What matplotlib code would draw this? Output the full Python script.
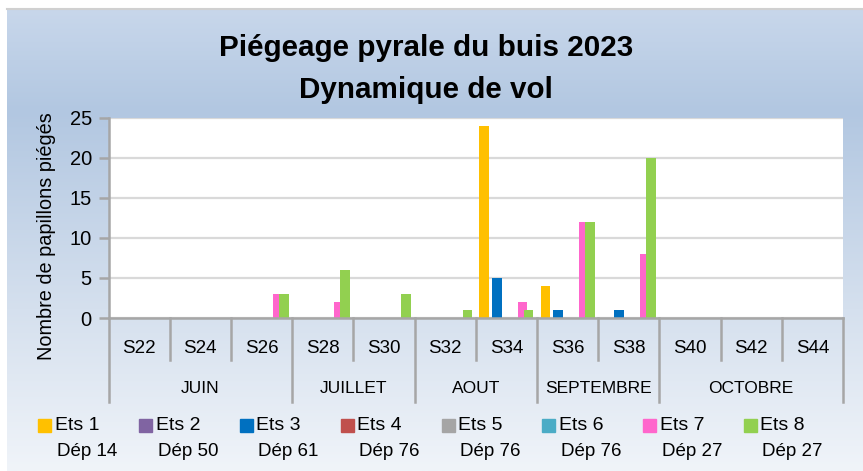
import numpy as np
import matplotlib.pyplot as plt
from matplotlib.patches import Rectangle

# données
weeks = ["S22", "S24", "S26", "S28", "S30", "S32", "S34", "S36", "S38", "S40", "S42", "S44"]
months = ["JUIN", "JUILLET", "AOUT", "SEPTEMBRE", "OCTOBRE"]
month_spans = [(0, 2), (3, 4), (5, 6), (7, 8), (9, 11)]
series = ["Ets 1", "Ets 2", "Ets 3", "Ets 4", "Ets 5", "Ets 6", "Ets 7", "Ets 8"]
depts = ["Dép 14", "Dép 50", "Dép 61", "Dép 76", "Dép 76", "Dép 76", "Dép 27", "Dép 27"]
ets1 = [0, 0, 0, 0, 0, 0, 24, 4, 0, 0, 0, 0]
ets2 = [0, 0, 0, 0, 0, 0, 0, 0, 0, 0, 0, 0]
ets3 = [0, 0, 0, 0, 0, 0, 5, 1, 1, 0, 0, 0]
ets4 = [0, 0, 0, 0, 0, 0, 0, 0, 0, 0, 0, 0]
ets5 = [0, 0, 0, 0, 0, 0, 0, 0, 0, 0, 0, 0]
ets6 = [0, 0, 0, 0, 0, 0, 0, 0, 0, 0, 0, 0]
ets7 = [0, 0, 3, 2, 0, 0, 2, 12, 8, 0, 0, 0]
ets8 = [0, 0, 3, 6, 3, 1, 1, 12, 20, 0, 0, 0]
values = [ets1, ets2, ets3, ets4, ets5, ets6, ets7, ets8]
colors = ["#FFC000", "#8064A2", "#0070C0", "#C0504D", "#A5A5A5", "#4BACC6", "#FF66CC", "#92D050"]

plt.rcParams['font.family'] = ['Liberation Sans', 'DejaVu Sans']

W, H = 863, 471
fig = plt.figure(figsize=(W / 100, H / 100), dpi=100)

# fond dégradé
bg = fig.add_axes([7 / W, 0, 1 - 7 / W, (H - 9) / H])
bg.set_axis_off()
ys = np.linspace(0, 1, 200)
stops = [0.0, 0.22, 0.65, 1.0]
cols = np.array([[200, 215, 235], [178, 199, 225], [213, 224, 238], [240, 244, 249]]) / 255
grad = np.stack([np.interp(ys, stops, cols[:, k]) for k in range(3)], axis=1)
bg.imshow(grad[:, None, :], aspect='auto', extent=[0, 1, 1, 0])
bg.set_xlim(0, 1)
bg.set_ylim(1, 0)
fig.add_artist(plt.Line2D([7 / W, 1], [1 - 8.5 / H] * 2, color="#d0d0d0", lw=1.5))

ax = fig.add_axes([108.5 / W, 1 - 318 / H, (843 - 108.5) / W, (318 - 117.5) / H])
ax.set_facecolor("white")
x = np.arange(len(weeks))
step, width = 0.104, 0.155
for i, (vals, c) in enumerate(zip(values, colors)):
    ax.bar(x + (i - 3.5) * step, vals, width=width, color=c, zorder=3)

ax.set_xlim(-0.5, len(weeks) - 0.5)
ax.set_ylim(0, 25)
ax.set_yticks([0, 5, 10, 15, 20, 25])
ax.yaxis.grid(True, color="#d9d9d9", lw=1.6)
ax.set_axisbelow(True)
ax.set_xticks([])
for s in ["top", "right", "bottom"]:
    ax.spines[s].set_visible(False)
ax.spines["left"].set_color("#a6a6a6")
ax.spines["left"].set_linewidth(1.8)
ax.tick_params(axis="y", length=7, width=1.8, color="#a6a6a6", labelsize=14.5, pad=5)
ax.axhline(0, color="#a6a6a6", lw=1.8, zorder=4, clip_on=False)

# axe des catégories à deux niveaux
tr = ax.get_xaxis_transform()
edges_month = [a - 0.5 for a, b in month_spans] + [len(weeks) - 0.5]
for e in np.arange(-0.5, len(weeks)):
    low = -0.42 if e in edges_month else -0.21
    ax.plot([e, e], [0, low], transform=tr, color="#a6a6a6", lw=1.8, clip_on=False)
for xi, w in zip(x, weeks):
    ax.text(xi, -0.15, w, transform=tr, ha="center", va="center", fontsize=13.5)
for (a, b), m in zip(month_spans, months):
    ax.text((a + b) / 2, -0.35, m, transform=tr, ha="center", va="center", fontsize=12.5)

fig.text(47 / W, 1 - 236 / H, "Nombre de papillons piégés", rotation=90,
         ha="center", va="center", fontsize=14.3)
fig.text(426 / W, 1 - 48 / H, "Piégeage pyrale du buis 2023", ha="center", va="center",
         fontsize=21.3, fontweight="bold")
fig.text(426 / W, 1 - 90 / H, "Dynamique de vol", ha="center", va="center",
         fontsize=21.3, fontweight="bold")

# légende
for i, (lab, dep, c) in enumerate(zip(series, depts, colors)):
    x0 = 38.3 + 100.8 * i
    fig.add_artist(Rectangle((x0 / W, 1 - 432 / H), 13 / W, 13 / H, color=c,
                             transform=fig.transFigure))
    fig.text((x0 + 16.5) / W, 1 - 425.5 / H, lab, ha="left", va="center", fontsize=14)
    fig.text((x0 + 18.5) / W, 1 - 451.5 / H, dep, ha="left", va="center", fontsize=13.5)

fig.savefig("out.png", dpi=100)
